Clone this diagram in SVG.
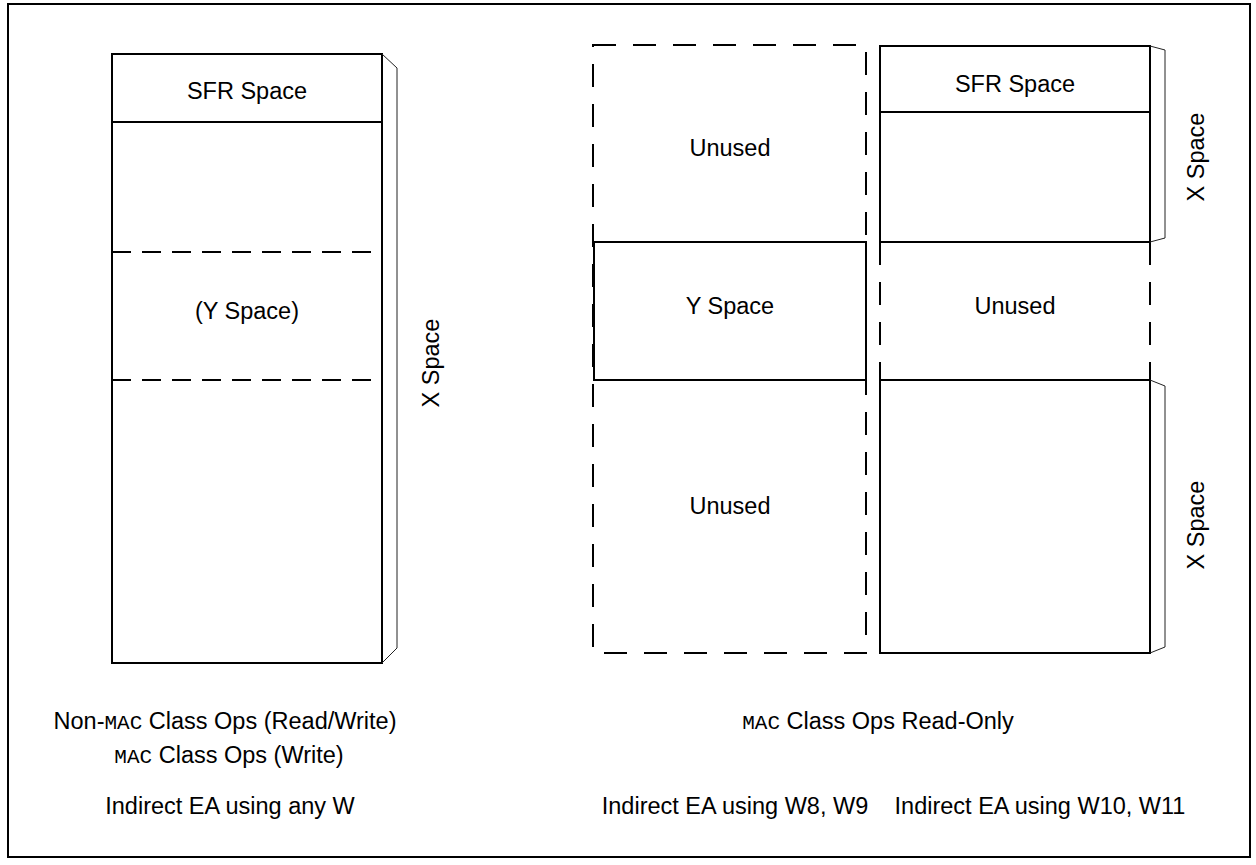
<svg xmlns="http://www.w3.org/2000/svg" width="1256" height="865" viewBox="0 0 1256 865">
<style>
.s{fill:none;stroke:#000;stroke-width:2}
.d{fill:none;stroke:#000;stroke-width:2;stroke-dasharray:19 11}
.d2{fill:none;stroke:#000;stroke-width:2;stroke-dasharray:23 17}
.b{fill:none;stroke:#222;stroke-width:1}
.t{font-family:"Liberation Sans",Arial,sans-serif;font-size:23.5px;fill:#000;text-anchor:middle}
.m{font-family:"Liberation Mono","Courier New",monospace;font-size:21px}
</style>
<rect width="1256" height="865" fill="#fff"/>
<rect x="8" y="4" width="1242" height="853" class="s"/>

<g id="left-block">
<rect x="112" y="54" width="270" height="609" class="s"/>
<line x1="112" y1="122" x2="382" y2="122" class="s"/>
<line x1="112" y1="252" x2="382" y2="252" class="d"/>
<line x1="112" y1="380" x2="382" y2="380" class="d"/>
<polyline points="382,54 397,68 397,648 382,663" class="b"/>
<text x="247" y="99" class="t">SFR Space</text>
<text x="247" y="319" class="t">(Y Space)</text>
<text class="t" transform="translate(438.5,363) rotate(-90)">X Space</text>
</g>

<g id="w8w9-column">
<rect x="593" y="45" width="273" height="608" class="d2"/>
<rect x="594" y="242" width="272" height="138" class="s"/>
<text x="730" y="155.5" class="t">Unused</text>
<text x="730" y="314" class="t">Y Space</text>
<text x="730" y="514" class="t">Unused</text>
</g>

<g id="w10w11-column">
<rect x="880" y="46" width="270" height="196" class="s"/>
<line x1="880" y1="112" x2="1150" y2="112" class="s"/>
<line x1="880" y1="242" x2="880" y2="380" class="d2"/>
<line x1="1150" y1="242" x2="1150" y2="380" class="d2"/>
<rect x="880" y="380" width="270" height="273" class="s"/>
<polyline points="1150,46 1165,50 1165,238 1150,242" class="b"/>
<polyline points="1150,380 1165,386 1165,647 1150,653" class="b"/>
<text x="1015" y="92" class="t">SFR Space</text>
<text x="1015" y="314" class="t">Unused</text>
<text class="t" transform="translate(1203.5,157) rotate(-90)">X Space</text>
<text class="t" transform="translate(1203.5,525) rotate(-90)">X Space</text>
</g>

<g id="captions">
<text x="225" y="729" class="t">Non-<tspan class="m">MAC</tspan> Class Ops (Read/Write)</text>
<text x="229" y="763" class="t"><tspan class="m">MAC</tspan> Class Ops (Write)</text>
<text x="230" y="814" class="t">Indirect EA using any W</text>
<text x="878" y="729" class="t"><tspan class="m">MAC</tspan> Class Ops Read-Only</text>
<text x="735" y="814" class="t">Indirect EA using W8, W9</text>
<text x="1040" y="814" class="t">Indirect EA using W10, W11</text>
</g>
</svg>
